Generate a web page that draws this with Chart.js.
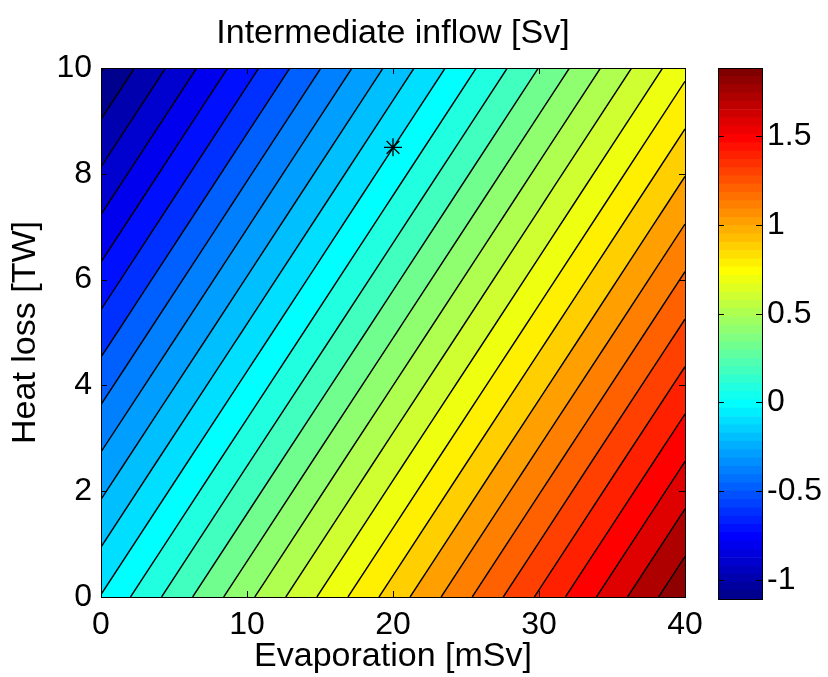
<!DOCTYPE html>
<html>
<head>
<meta charset="utf-8">
<script src="https://cdn.jsdelivr.net/npm/chart.js@4.4.1/dist/chart.umd.min.js"></script>
<style>
  html, body { margin: 0; padding: 0; background: #fff; }
  #wrap { position: relative; width: 828px; height: 677px; }
  canvas { position: absolute; top: 0; }
</style>
</head>
<body>
<div id="wrap">
  <canvas id="mainChart" width="828" height="677" style="left:0"></canvas>
  <canvas id="barChart" width="128" height="677" style="left:700px"></canvas>
</div>
<script>
// grid: evaporation (x, mSv), heat loss (y, TW), inflow (Sv)
const evaporation = [0, 10, 20, 30, 40];
const heatLoss = [0, 2.5, 5, 7.5, 10];
const inflow = [
  [0.005, 0.475, 0.945, 1.415, 1.885],    // H = 0
  [-0.273, 0.197, 0.667, 1.137, 1.607],   // H = 2.5
  [-0.552, -0.082, 0.388, 0.858, 1.328],  // H = 5
  [-0.830, -0.360, 0.110, 0.580, 1.050],  // H = 7.5
  [-1.108, -0.638, -0.168, 0.302, 0.772]  // H = 10
];
const levels = [-1.1, -1.0, -0.9, -0.8, -0.7, -0.6, -0.5, -0.4, -0.3, -0.2, -0.1, 0,
  0.1, 0.2, 0.3, 0.4, 0.5, 0.6, 0.7, 0.8, 0.9, 1.0, 1.1, 1.2, 1.3, 1.4, 1.5, 1.6, 1.7, 1.8];
const marker = [{x: 20, y: 8.5}];
const xTicks = [0, 10, 20, 30, 40];
const yTicks = [0, 2, 4, 6, 8, 10];
const barTicks = [-1, -0.5, 0, 0.5, 1, 1.5];

const FONT = 'Liberation Sans, Arial, Helvetica, sans-serif';
const allVals = inflow.flat();
const cmin = Math.min(...allVals);
const cmax = Math.max(...allVals);

// matlab jet(64), i = 1..64
function jetColor(i) {
  const u = k => k < 1 ? 0 : k <= 16 ? k / 16 : k <= 31 ? 1 : k <= 47 ? (48 - k) / 16 : 0;
  const r = u(i - 24), g = u(i - 8), b = u(i + 8);
  return 'rgb(' + Math.round(r * 255) + ',' + Math.round(g * 255) + ',' + Math.round(b * 255) + ')';
}
function colorFor(v) {
  let idx = Math.floor((v - cmin) / (cmax - cmin) * 64) + 1;
  idx = Math.max(1, Math.min(64, idx));
  return jetColor(idx);
}

// keep the part of a polygon where sign*(v - level) >= 0
function clipPoly(poly, level, sign) {
  const out = [];
  for (let n = 0; n < poly.length; n++) {
    const a = poly[n], b = poly[(n + 1) % poly.length];
    const da = sign * (a.v - level), db = sign * (b.v - level);
    if (da >= 0) out.push(a);
    if ((da >= 0) !== (db >= 0)) {
      const t = da / (da - db);
      out.push({px: a.px + t * (b.px - a.px), py: a.py + t * (b.py - a.py), v: level});
    }
  }
  return out;
}

function triangles(x, y) {
  const tris = [];
  const p = (i, j) => ({px: x.getPixelForValue(evaporation[i]), py: y.getPixelForValue(heatLoss[j]), v: inflow[j][i]});
  for (let j = 0; j < heatLoss.length - 1; j++) {
    for (let i = 0; i < evaporation.length - 1; i++) {
      const p00 = p(i, j), p10 = p(i + 1, j), p01 = p(i, j + 1), p11 = p(i + 1, j + 1);
      tris.push([p00, p10, p11], [p00, p11, p01]);
    }
  }
  return tris;
}

const contourPlugin = {
  id: 'contour',
  beforeDatasetsDraw(chart) {
    const {ctx, chartArea: a, scales: {x, y}} = chart;
    const tris = triangles(x, y);
    ctx.save();
    ctx.beginPath();
    ctx.rect(a.left, a.top, a.width, a.height);
    ctx.clip();
    // filled bands
    const bounds = [-Infinity, ...levels, Infinity];
    for (let k = 0; k < bounds.length - 1; k++) {
      const lo = bounds[k], hi = bounds[k + 1];
      ctx.fillStyle = colorFor(k === 0 ? cmin : lo);
      ctx.beginPath();
      tris.forEach(t => {
        let poly = clipPoly(t, lo, 1);
        poly = clipPoly(poly, hi, -1);
        if (poly.length < 3) return;
        ctx.moveTo(poly[0].px, poly[0].py);
        for (let n = 1; n < poly.length; n++) ctx.lineTo(poly[n].px, poly[n].py);
        ctx.closePath();
      });
      ctx.fill();
    }
    // contour lines
    ctx.strokeStyle = '#000';
    ctx.lineWidth = 1.4;
    ctx.beginPath();
    levels.forEach(L => {
      tris.forEach(t => {
        const pts = [];
        for (let n = 0; n < 3; n++) {
          const a1 = t[n], b1 = t[(n + 1) % 3];
          if ((a1.v - L) * (b1.v - L) < 0) {
            const s = (L - a1.v) / (b1.v - a1.v);
            pts.push([a1.px + s * (b1.px - a1.px), a1.py + s * (b1.py - a1.py)]);
          }
        }
        if (pts.length === 2) {
          ctx.moveTo(pts[0][0], pts[0][1]);
          ctx.lineTo(pts[1][0], pts[1][1]);
        }
      });
    });
    ctx.stroke();
    ctx.restore();
  },
  afterDraw(chart) {
    const {ctx, chartArea: a, scales: {x, y}} = chart;
    ctx.save();
    ctx.strokeStyle = '#000';
    ctx.lineWidth = 1;
    ctx.beginPath();
    xTicks.forEach(v => {
      const px = Math.round(x.getPixelForValue(v)) + 0.5;
      ctx.moveTo(px, a.bottom); ctx.lineTo(px, a.bottom - 6);
      ctx.moveTo(px, a.top); ctx.lineTo(px, a.top + 6);
    });
    yTicks.forEach(v => {
      const py = Math.round(y.getPixelForValue(v)) + 0.5;
      ctx.moveTo(a.left, py); ctx.lineTo(a.left + 6, py);
      ctx.moveTo(a.right, py); ctx.lineTo(a.right - 6, py);
    });
    ctx.stroke();
    ctx.strokeRect(Math.round(a.left) + 0.5, Math.round(a.top) + 0.5, Math.round(a.width), Math.round(a.height));
    ctx.restore();
  }
};

const mainCtx = document.getElementById('mainChart').getContext('2d');
const mainChart = new Chart(mainCtx, {
  type: 'scatter',
  data: {
    datasets: [{
      data: marker,
      pointStyle: 'star',
      pointRadius: 9,
      borderColor: '#000',
      borderWidth: 1.3,
      backgroundColor: 'rgba(0,0,0,0)'
    }]
  },
  options: {
    responsive: false,
    animation: false,
    devicePixelRatio: 1,
    layout: { padding: { left: 0, right: 143, top: 0, bottom: 0 } },
    plugins: {
      legend: { display: false },
      tooltip: { enabled: false },
      title: {
        display: true,
        fullSize: false,
        text: 'Intermediate inflow [Sv]',
        color: '#000',
        font: { family: FONT, size: 34, weight: 'normal', lineHeight: 1.2 },
        padding: { top: 13.6, bottom: 13.6 }
      }
    },
    scales: {
      x: {
        type: 'linear', min: 0, max: 40,
        afterBuildTicks: s => { s.ticks = xTicks.map(v => ({value: v})); },
        afterFit: s => { s.height = 80; },
        grid: { display: false, drawTicks: false },
        border: { display: false },
        ticks: { color: '#000', font: { family: FONT, size: 32 }, padding: 9, maxRotation: 0, autoSkip: false, callback: v => String(v) },
        title: { display: true, text: 'Evaporation [mSv]', color: '#000', font: { family: FONT, size: 34, lineHeight: 1.2 }, padding: { top: 0, bottom: 0 } }
      },
      y: {
        type: 'linear', min: 0, max: 10,
        afterBuildTicks: s => { s.ticks = yTicks.map(v => ({value: v})); },
        afterFit: s => { s.width = 101; },
        grid: { display: false, drawTicks: false },
        border: { display: false },
        ticks: { color: '#000', font: { family: FONT, size: 32 }, padding: 9, autoSkip: false, callback: v => String(v) },
        title: { display: true, text: 'Heat loss [TW]', color: '#000', font: { family: FONT, size: 34, lineHeight: 1.2 }, padding: { top: 5.6, bottom: 0 } }
      }
    }
  },
  plugins: [contourPlugin]
});

// colour bar: 64 jet steps spanning the data range
const barSets = [];
for (let i = 0; i < 64; i++) {
  barSets.push({
    data: [[cmin + (cmax - cmin) * i / 64, cmin + (cmax - cmin) * (i + 1) / 64]],
    backgroundColor: jetColor(i + 1),
    borderWidth: 0,
    barPercentage: 1,
    categoryPercentage: 1,
    grouped: false
  });
}

const barFrame = {
  id: 'barFrame',
  afterDraw(chart) {
    const {ctx, chartArea: a, scales: {y}} = chart;
    ctx.save();
    ctx.strokeStyle = '#000';
    ctx.lineWidth = 1;
    ctx.beginPath();
    barTicks.forEach(v => {
      const py = Math.round(y.getPixelForValue(v)) + 0.5;
      ctx.moveTo(a.left, py); ctx.lineTo(a.left + 6, py);
      ctx.moveTo(a.right, py); ctx.lineTo(a.right - 6, py);
    });
    ctx.stroke();
    ctx.strokeRect(Math.round(a.left) + 0.5, Math.round(a.top) + 0.5, Math.round(a.width), Math.round(a.height));
    ctx.restore();
  }
};

const barCtx = document.getElementById('barChart').getContext('2d');
const barChart = new Chart(barCtx, {
  type: 'bar',
  data: { labels: [''], datasets: barSets },
  options: {
    responsive: false,
    animation: false,
    devicePixelRatio: 1,
    layout: { padding: { left: 18, right: 0, top: 68, bottom: 78 } },
    plugins: { legend: { display: false }, tooltip: { enabled: false } },
    scales: {
      x: { display: false },
      y: {
        position: 'right',
        min: cmin, max: cmax,
        afterBuildTicks: s => { s.ticks = barTicks.map(v => ({value: v})); },
        afterFit: s => { s.width = 66; },
        grid: { display: false, drawTicks: false },
        border: { display: false },
        ticks: { color: '#000', font: { family: FONT, size: 32 }, padding: 5, autoSkip: false, callback: v => String(v) }
      }
    }
  },
  plugins: [barFrame]
});
</script>
</body>
</html>
